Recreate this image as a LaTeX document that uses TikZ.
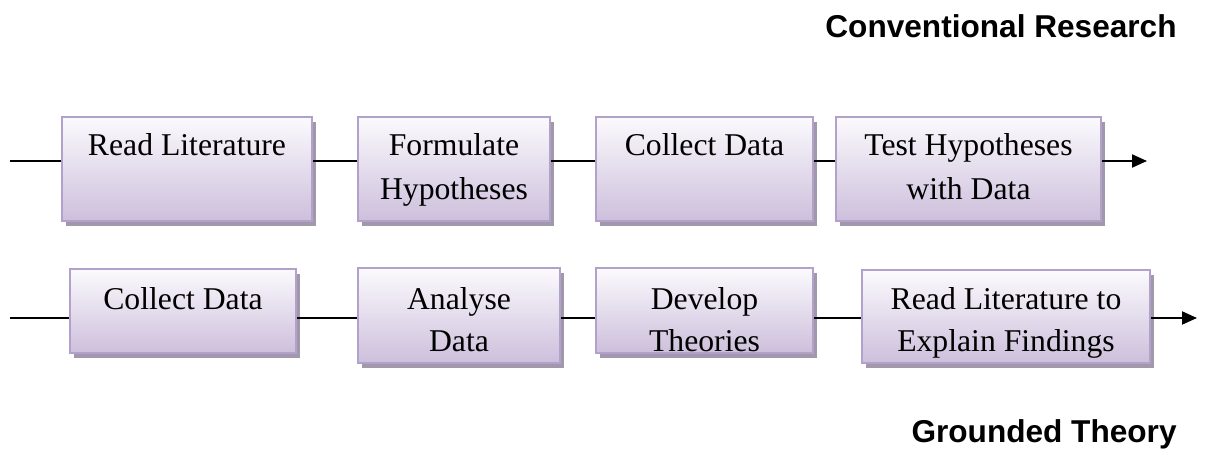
\documentclass[tikz,border=0pt]{standalone}
\usepackage{fontspec}
\setmainfont{Liberation Serif}
\newfontfamily\titlefont{Liberation Sans}
\usetikzlibrary{arrows.meta,shadows}
\definecolor{boxtop}{RGB}{251,250,253}
\definecolor{boxbot}{RGB}{205,191,220}
\definecolor{boxline}{RGB}{178,161,202}
\definecolor{shadowc}{RGB}{162,152,172}
\tikzset{
  box/.style={rectangle, draw=boxline, line width=0.9pt, top color=boxtop, bottom color=boxbot,
    inner sep=0pt, drop shadow={shadow xshift=2pt, shadow yshift=-2.5pt, fill=shadowc, opacity=1}},
  lblA/.style={anchor=north, inner sep=0pt, align=center, font=\fontsize{15.85}{22}\selectfont},
  lblB/.style={anchor=north, inner sep=0pt, align=center, font=\fontsize{15.85}{21}\selectfont},
  conn/.style={draw=black, line width=1pt},
  tip/.style={-{Triangle[length=7.5pt,width=6.5pt]}},
  title/.style={anchor=base east, inner sep=0pt, font=\titlefont\bfseries\fontsize{15.8}{19}\selectfont}
}
\begin{document}
\begin{tikzpicture}[x=0.5pt,y=-0.5pt]
\useasboundingbox (0,0) rectangle (1206,450);

% titles
\node[title] (t1) at (1177,37) {Conventional Research};
\node[title] (t2) at (1177,442) {Grounded Theory};

% free ends
\coordinate (s1) at (10,161);
\coordinate (e1) at (1147,161);
\coordinate (s2) at (10,318);
\coordinate (e2) at (1197,318);

% row 1 boxes
\node[box, minimum width=125pt, minimum height=52pt] (b1) at (187,169) {};
\node[box, minimum width=96pt, minimum height=52pt] (b2) at (454,169) {};
\node[box, minimum width=108.5pt, minimum height=52pt] (b3) at (704.5,169) {};
\node[box, minimum width=132.5pt, minimum height=52pt] (b4) at (968.5,169) {};

% row 2 boxes
\node[box, minimum width=113pt, minimum height=42pt] (c1) at (183,311) {};
\node[box, minimum width=101pt, minimum height=47.5pt] (c2) at (459,315.5) {};
\node[box, minimum width=108.5pt, minimum height=42.5pt] (c3) at (704.5,310.5) {};
\node[box, minimum width=144pt, minimum height=46.5pt] (c4) at (1006,316.5) {};

% row 1 connectors
\draw[conn] (s1) -- (s1 -| b1.west);
\draw[conn] (b1.east |- s1) -- (b2.west |- s1);
\draw[conn] (b2.east |- s1) -- (b3.west |- s1);
\draw[conn] (b3.east |- s1) -- (b4.west |- s1);
\draw[conn, tip] (b4.east |- s1) -- (e1);

% row 2 connectors
\draw[conn] (s2) -- (s2 -| c1.west);
\draw[conn] (c1.east |- s2) -- (c2.west |- s2);
\draw[conn] (c2.east |- s2) -- (c3.west |- s2);
\draw[conn] (c3.east |- s2) -- (c4.west |- s2);
\draw[conn, tip] (c4.east |- s2) -- (e2);

% row 1 labels
\node[lblA] (l1) at (187,124) {\strut Read Literature};
\node[lblA] (l2) at (454,124) {\strut Formulate\\\strut Hypotheses};
\node[lblA] (l3) at (704.5,124) {\strut Collect Data};
\node[lblA] (l4) at (968.5,124) {\strut Test Hypotheses\\\strut with Data};

% row 2 labels
\node[lblB] (m1) at (183,280) {\strut Collect Data};
\node[lblB] (m2) at (459,280) {\strut Analyse\\\strut Data};
\node[lblB] (m3) at (704.5,280) {\strut Develop\\\strut Theories};
\node[lblB] (m4) at (1006,280) {\strut Read Literature to\\\strut Explain Findings};
\end{tikzpicture}
\end{document}
